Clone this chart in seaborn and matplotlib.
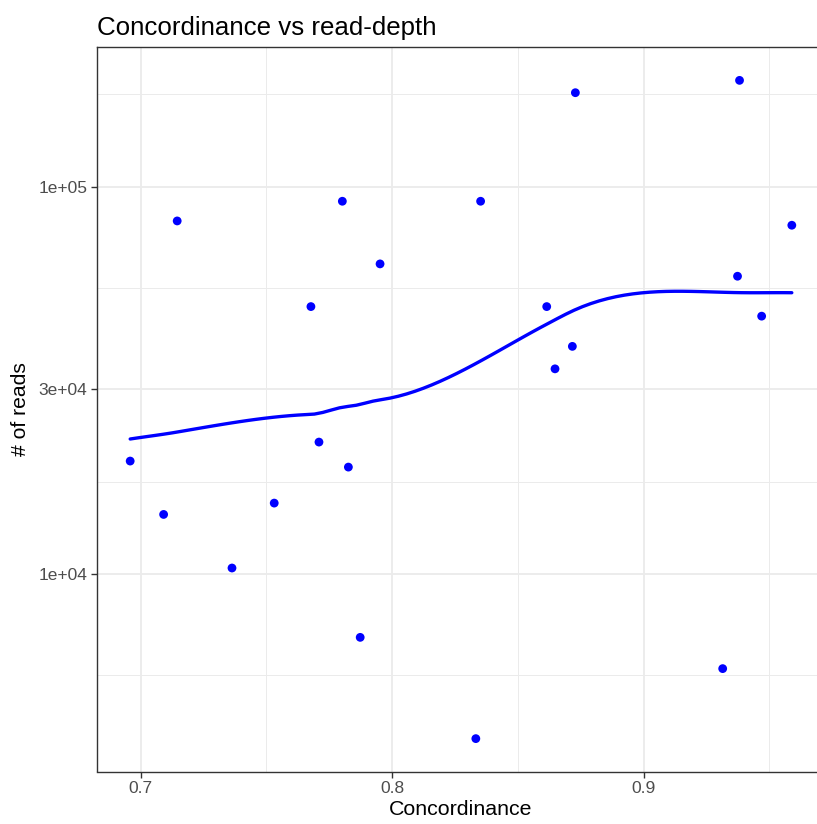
import numpy as np
import pandas as pd
import seaborn as sns
import matplotlib
matplotlib.use('Agg')
import matplotlib.pyplot as plt
from matplotlib.ticker import FixedLocator, NullFormatter

# values
concordance = [0.6958, 0.7091, 0.7145, 0.7363, 0.7531, 0.7677, 0.7709, 0.7802,
               0.7826, 0.7873, 0.7952, 0.8333, 0.8352, 0.8615, 0.8648, 0.8717,
               0.8729, 0.9315, 0.9374, 0.9382, 0.9470, 0.9590]
reads = [19590, 14265, 81620, 10375, 15260, 49060, 21930, 91750,
         18900, 6871, 63230, 3764, 91750, 49060, 33890, 38730,
         174900, 5706, 58760, 188200, 46350, 79560]
x_ticks = [0.7, 0.8, 0.9]
y_ticks = [1e4, 3e4, 1e5]
y_tick_labels = ['1e+04', '3e+04', '1e+05']

df = pd.DataFrame({'Concordinance': concordance, 'reads': reads})


def local_fit(x, y, x0, q):
    # weighted local quadratic, returns value and slope at x0
    d = np.abs(x - x0)
    h = np.sort(d)[q - 1]
    w = np.clip(1 - (d / h) ** 3, 0, None) ** 3
    X = np.column_stack([np.ones_like(x), x - x0, (x - x0) ** 2])
    W = np.diag(w)
    beta = np.linalg.solve(X.T @ W @ X, X.T @ W @ y)
    return beta[0], beta[1]


def loess(x, y, xs, span=0.75, cell=0.2):
    # loess like R: fits at kd-tree vertices, cubic hermite in between
    order = np.argsort(x)
    x = np.asarray(x)[order]
    y = np.asarray(y)[order]
    n = len(x)
    q = int(np.floor(n * span))
    fc = int(np.floor(n * span * cell))
    mu = 0.005 * (x.max() - x.min())
    verts = [x.min() - mu, x.max() + mu]

    def split(lo, hi):
        if hi - lo + 1 <= fc:
            return
        m = (lo + hi + 2) // 2 - 1
        verts.append(x[m])
        split(lo, m)
        split(m + 1, hi)

    split(0, n - 1)
    verts = np.sort(verts)
    vals = np.array([local_fit(x, y, v, q) for v in verts])
    out = []
    for x0 in xs:
        i = min(np.searchsorted(verts, x0, side='right') - 1, len(verts) - 2)
        a, b = verts[i], verts[i + 1]
        hlen = b - a
        t = (x0 - a) / hlen
        h00 = 2 * t ** 3 - 3 * t ** 2 + 1
        h10 = t ** 3 - 2 * t ** 2 + t
        h01 = -2 * t ** 3 + 3 * t ** 2
        h11 = t ** 3 - t ** 2
        out.append(h00 * vals[i, 0] + h10 * hlen * vals[i, 1]
                   + h01 * vals[i + 1, 0] + h11 * hlen * vals[i + 1, 1])
    return np.array(out)


grid_x = np.linspace(df['Concordinance'].min(), df['Concordinance'].max(), 80)
smooth = pd.DataFrame({'Concordinance': grid_x,
                       'reads': 10 ** loess(df['Concordinance'].values, np.log10(df['reads'].values), grid_x)})

sns.set_theme(style='white')
plt.rcParams['font.family'] = ['Liberation Sans', 'DejaVu Sans']

fig = plt.figure(figsize=(8.17, 8.24), dpi=100)
ax = fig.add_axes([97 / 817, (824 - 771.5) / 824, (825 - 97) / 817, (771.5 - 47.4) / 824])

sns.lineplot(data=smooth, x='Concordinance', y='reads', color='#0000FF', linewidth=2.4, ax=ax, zorder=3)
sns.scatterplot(data=df, x='Concordinance', y='reads', color='#0000FF', s=40, edgecolor='none', ax=ax, zorder=4)

ax.set_yscale('log')
ax.set_xlim(0.6826, 0.9722)
ax.set_ylim(10 ** 3.4908, 10 ** 5.3597)

ax.xaxis.set_major_locator(FixedLocator(x_ticks))
ax.xaxis.set_minor_locator(FixedLocator([0.75, 0.85, 0.95]))
ax.set_xticklabels([str(t) for t in x_ticks])
ax.yaxis.set_major_locator(FixedLocator(y_ticks))
ax.yaxis.set_minor_locator(FixedLocator([10 ** 3.7386, 10 ** 4.2386, 10 ** 4.7386, 10 ** 5.2386]))
ax.yaxis.set_minor_formatter(NullFormatter())
ax.set_yticklabels(y_tick_labels)

ax.grid(which='major', color='#EBEBEB', linewidth=1.3)
ax.grid(which='minor', color='#EBEBEB', linewidth=0.7)
ax.set_axisbelow(True)

ax.tick_params(which='major', direction='out', length=4, width=1, color='#333333',
               labelsize=12.5, labelcolor='#4D4D4D', pad=3, left=True, bottom=True)
ax.tick_params(which='minor', length=0)
for s in ax.spines.values():
    s.set_color('#333333')
    s.set_linewidth(1.0)

ax.set_xlabel('Concordinance', fontsize=15.4, color='black', labelpad=3)
ax.set_ylabel('# of reads', fontsize=15.2, color='black', labelpad=6)
ax.set_title('Concordinance vs read-depth', fontsize=18.6, loc='left', pad=9, color='black')

fig.savefig('out.png', dpi=100)
